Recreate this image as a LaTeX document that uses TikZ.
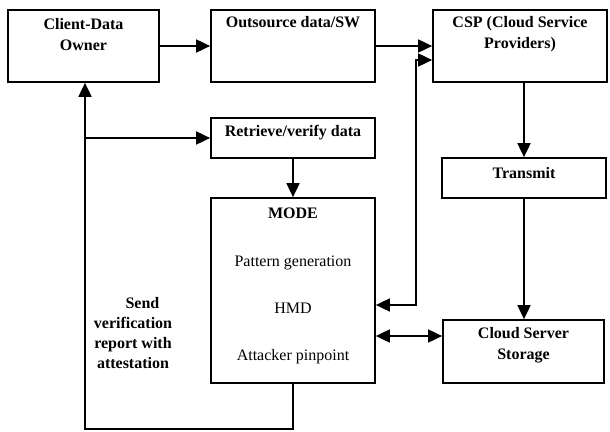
\documentclass[tikz,border=0pt]{standalone}
\usepackage{fontspec}
\setmainfont{Liberation Serif}
\usetikzlibrary{arrows.meta}
\begin{document}
\begin{tikzpicture}[x=1pt,y=-1pt,
  box/.style={draw, line width=1.7pt, inner sep=0pt},
  lbl/.style={font=\fontsize{16}{21}\selectfont\bfseries, align=center, inner sep=0pt},
  reg/.style={font=\fontsize{16}{21}\selectfont, inner sep=0pt},
  conn/.style={line width=1.7pt, -{Triangle[length=14pt,width=13pt]}},
  conn2/.style={line width=1.7pt, {Triangle[length=14pt,width=13pt]}-{Triangle[length=14pt,width=13pt]}},
]
\useasboundingbox (0,0) rectangle (610,431);

% boxes
\node[box, minimum width=151pt, minimum height=72pt] (client) at (83.5,46) {};
\node[box, minimum width=164pt, minimum height=72pt] (outsource) at (293,46) {};
\node[box, minimum width=174pt, minimum height=72pt] (csp) at (520,46) {};
\node[box, minimum width=164pt, minimum height=40pt] (retrieve) at (293,138) {};
\node[box, minimum width=164pt, minimum height=185pt] (mode) at (293,290.5) {};
\node[box, minimum width=164pt, minimum height=40pt] (transmit) at (524,178) {};
\node[box, minimum width=161pt, minimum height=63pt] (storage) at (523.5,351.5) {};

% texts
\node[lbl] (clientT) at (83.5,35) {Client-Data\\Owner};
\node[lbl] (outT) at (293,22) {Outsource data/SW};
\node[lbl] (cspT) at (520,34.5) {CSP (Cloud Service\\Providers)};
\node[lbl] (retT) at (293,133) {Retrieve/verify data};
\node[lbl] (modeT) at (293,213) {MODE};
\node[reg] (patT) at (293,263) {Pattern generation};
\node[reg] (hmdT) at (293,308) {HMD};
\node[reg] (attT) at (293,357) {Attacker pinpoint};
\node[lbl] (trT) at (524,173) {Transmit};
\node[lbl] (stT) at (523.5,345) {Cloud Server\\Storage};
\node[lbl, font=\fontsize{16}{20}\selectfont\bfseries] (send) at (133,333.5) {\hspace*{19pt}Send\\verification\\report with\\attestation};

% coordinates
\coordinate (v1) at (416,60);
\coordinate (v2) at (416,305);
\coordinate (h) at (0,336);
\coordinate (lb) at (85,429);
\coordinate (br) at (85,138);

% connectors
\draw[conn] (client) -- (outsource);
\draw[conn] (outsource) -- (csp);
\draw[conn2] (mode.east |- v2) -- (v2) -- (v1) -- (csp.west |- v1);
\draw[conn] (transmit.north |- csp.south) -- (transmit.north);
\draw[conn] (transmit.south) -- (transmit.south |- storage.north);
\draw[conn2] (mode.east |- h) -- (storage.west |- h);
\draw[conn] (retrieve) -- (mode);
\draw[conn] (mode.south) |- (lb) -- (client.south -| lb);
\draw[conn] (br) -- (retrieve.west);
\end{tikzpicture}
\end{document}
